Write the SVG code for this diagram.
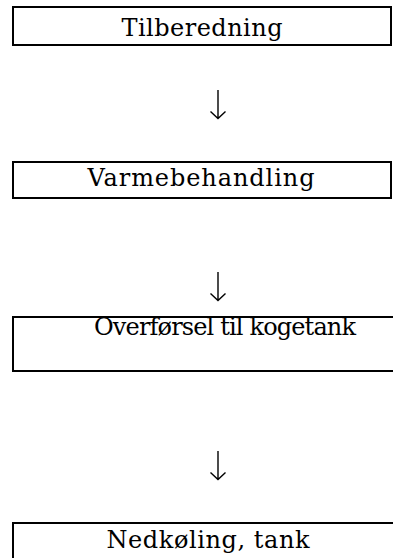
<svg xmlns="http://www.w3.org/2000/svg" width="393" height="558" viewBox="0 0 393 558">
<style>
.box{fill:#fff;stroke:#000;stroke-width:2}
.lbl{font-family:"DejaVu Serif","Liberation Serif",serif;font-size:24px;fill:#000;text-anchor:middle}
.arr{fill:none;stroke:#000;stroke-width:1.4}
</style>
<rect width="393" height="558" fill="#fff"/>
<g id="n1"><rect class="box" x="13" y="7" width="378" height="38"/><text class="lbl" x="202" y="36" textLength="161" lengthAdjust="spacing">Tilberedning</text></g>
<g id="n2"><rect class="box" x="13" y="162" width="378" height="36"/><text class="lbl" x="201" y="186" textLength="227" lengthAdjust="spacing">Varmebehandling</text></g>
<g id="n3"><rect class="box" x="13" y="317" width="400" height="54"/><text class="lbl" x="225" y="335" font-size="23" textLength="262" lengthAdjust="spacing">Overførsel til kogetank</text></g>
<g id="n4"><rect class="box" x="13" y="523" width="400" height="60"/><text class="lbl" x="208" y="548" textLength="203" lengthAdjust="spacing">Nedkøling, tank</text></g>
<g id="connectors">
<path class="arr" d="M218 90V118M210.5 111.5L218 118.5L225.5 111.5"/>
<path class="arr" d="M218 272V300M210.5 293.5L218 300.5L225.5 293.5"/>
<path class="arr" d="M218 451V479M210.5 472.5L218 479.5L225.5 472.5"/>
</g>
</svg>
